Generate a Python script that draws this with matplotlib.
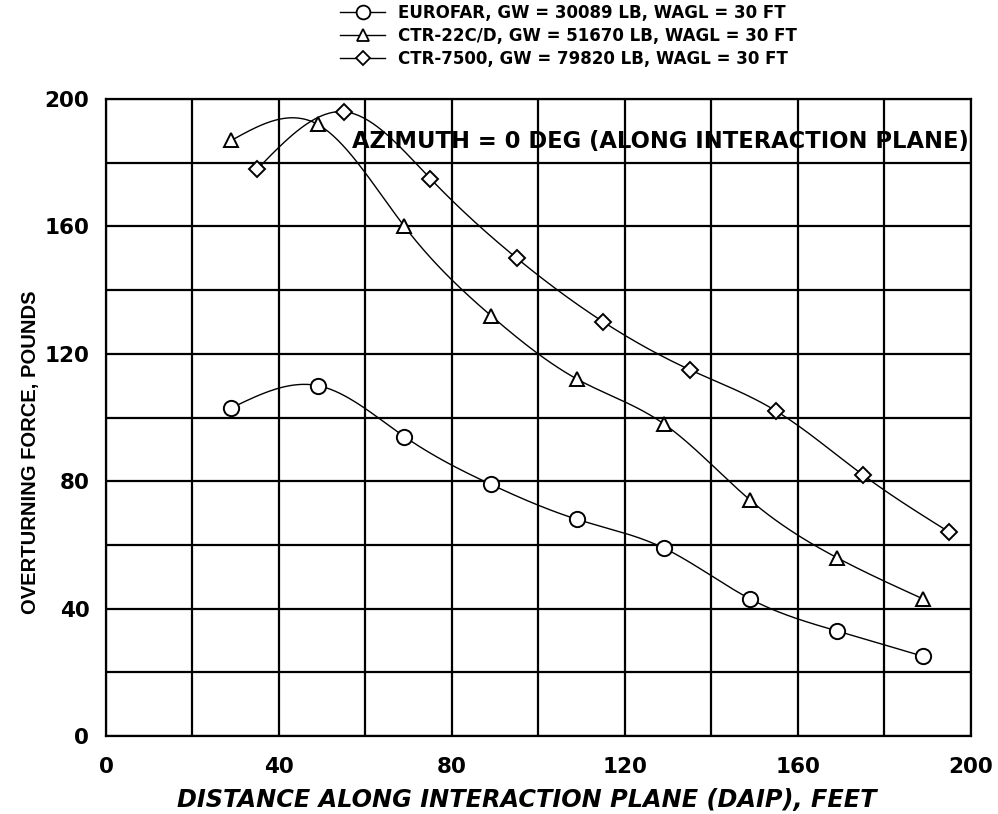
import numpy as np
import matplotlib
matplotlib.use("Agg")
import matplotlib.pyplot as plt
from matplotlib.lines import Line2D

plt.rcParams['font.family'] = ['DejaVu Sans']
plt.rcParams['font.weight'] = 'bold'

# data
eurofar_x = [29, 49, 69, 89, 109, 129, 149, 169, 189]
eurofar_y = [103, 110, 94, 79, 68, 59, 43, 33, 25]
ctr22_x = [29, 49, 69, 89, 109, 129, 149, 169, 189]
ctr22_y = [187, 192, 160, 132, 112, 98, 74, 56, 43]
ctr75_x = [35, 55, 75, 95, 115, 135, 155, 175, 195]
ctr75_y = [178, 196, 175, 150, 130, 115, 102, 82, 64]

labels = ["EUROFAR, GW = 30089 LB, WAGL = 30 FT",
          "CTR-22C/D, GW = 51670 LB, WAGL = 30 FT",
          "CTR-7500, GW = 79820 LB, WAGL = 30 FT"]
markers = ['o', '^', 'D']
msizes = [11, 10, 8]


def natural_spline(x, y, n=300):
    """smooth curve through the points (natural cubic spline)"""
    x = np.asarray(x, float)
    y = np.asarray(y, float)
    k = len(x)
    h = np.diff(x)
    A = np.zeros((k, k))
    b = np.zeros(k)
    A[0, 0] = A[-1, -1] = 1
    for i in range(1, k - 1):
        A[i, i - 1] = h[i - 1]
        A[i, i] = 2 * (h[i - 1] + h[i])
        A[i, i + 1] = h[i]
        b[i] = 6 * ((y[i + 1] - y[i]) / h[i] - (y[i] - y[i - 1]) / h[i - 1])
    M = np.linalg.solve(A, b)
    xs = np.linspace(x[0], x[-1], n)
    idx = np.clip(np.searchsorted(x, xs) - 1, 0, k - 2)
    x0, x1 = x[idx], x[idx + 1]
    hh = x1 - x0
    ys = (M[idx] * (x1 - xs) ** 3 / (6 * hh) + M[idx + 1] * (xs - x0) ** 3 / (6 * hh)
          + (y[idx] / hh - M[idx] * hh / 6) * (x1 - xs)
          + (y[idx + 1] / hh - M[idx + 1] * hh / 6) * (xs - x0))
    return xs, ys


fig = plt.figure(figsize=(9.98, 8.14), dpi=100)
ax = fig.add_axes([0.1062, 0.0958, 0.8667, 0.7826])

handles = []
for (xv, yv), m, ms, lab in zip([(eurofar_x, eurofar_y), (ctr22_x, ctr22_y), (ctr75_x, ctr75_y)],
                                markers, msizes, labels):
    xs, ys = natural_spline(xv, yv)
    ax.plot(xs, ys, color='black', lw=1.0, zorder=3)
    ax.plot(xv, yv, linestyle='none', marker=m, markersize=ms, markerfacecolor='white',
            markeredgecolor='black', markeredgewidth=1.4, zorder=4)
    handles.append(Line2D([], [], color='black', lw=1.0, marker=m, markersize=ms * 0.9,
                          markerfacecolor='white', markeredgecolor='black', markeredgewidth=1.3))

ax.set_xlim(0, 200)
ax.set_ylim(0, 200)
ax.set_xticks(np.arange(0, 201, 40))
ax.set_yticks(np.arange(0, 201, 40))
ax.set_xticks(np.arange(0, 201, 20), minor=True)
ax.set_yticks(np.arange(0, 201, 20), minor=True)
ax.grid(True, which='both', color='black', lw=1.6)
ax.tick_params(which='both', length=0, labelsize=15.5)
ax.tick_params(axis='x', pad=15)
ax.tick_params(axis='y', pad=12)
for s in ax.spines.values():
    s.set_linewidth(1.6)

ax.set_xlabel("DISTANCE ALONG INTERACTION PLANE (DAIP), FEET", fontsize=17.3,
              fontstyle='italic', fontweight='bold')
ax.xaxis.set_label_coords(0.487, -0.081)
ax.set_ylabel("OVERTURNING FORCE, POUNDS", fontsize=14.5, fontweight='bold',
              family='Liberation Sans')
ax.yaxis.set_label_coords(-0.076, 0.446)

ax.text(199.6, 186.5, "AZIMUTH = 0 DEG (ALONG INTERACTION PLANE)", fontsize=16.3,
        fontweight='bold', ha='right', va='center', zorder=5)

fig.legend(handles, labels, loc='upper left', bbox_to_anchor=(340 / 998, 1 - 4 / 814),
           frameon=False, prop={'size': 12, 'weight': 'bold'}, handlelength=2.7,
           handletextpad=0.8, labelspacing=0.3, borderpad=0, borderaxespad=0)

fig.savefig("out.png", dpi=100)
